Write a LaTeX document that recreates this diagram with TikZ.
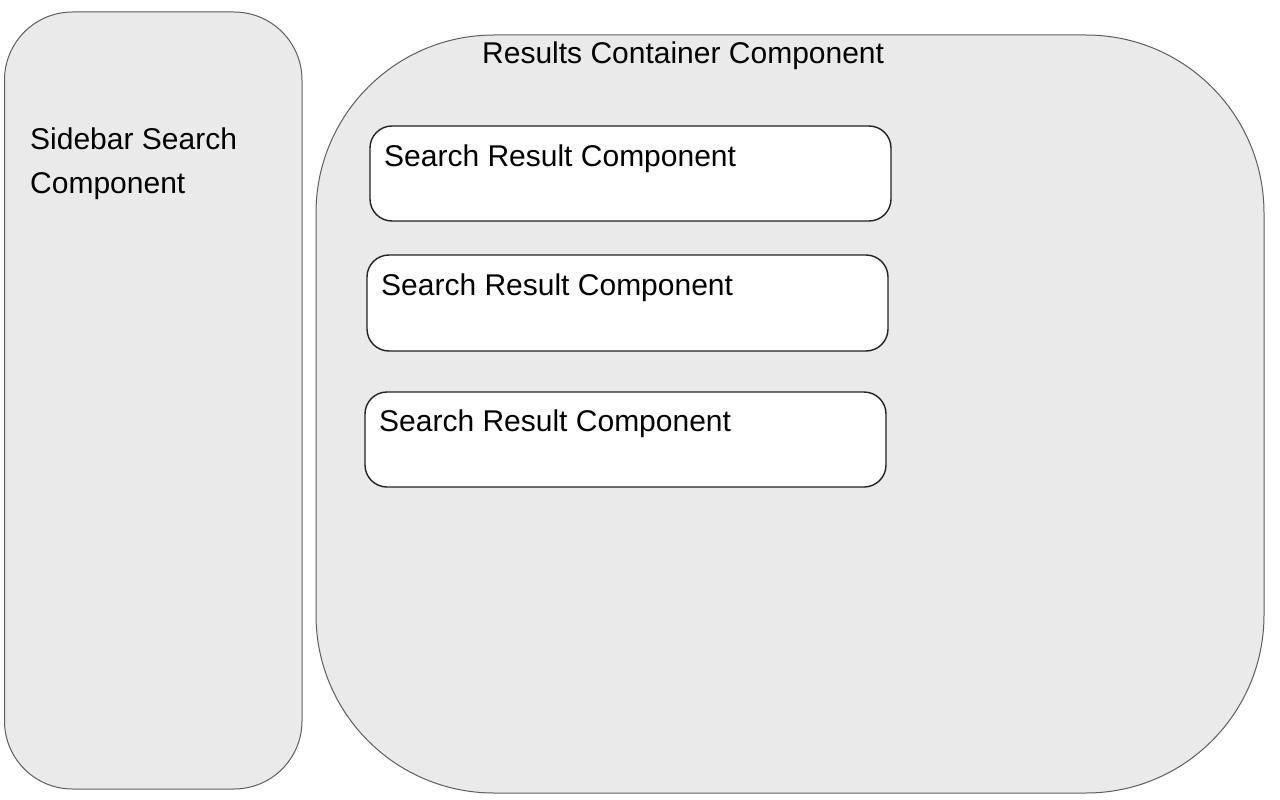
\documentclass[tikz,border=0pt]{standalone}
\usepackage{fontspec}
\setmainfont{Liberation Sans}
\definecolor{panelfill}{HTML}{EAEAEA}
\definecolor{paneldraw}{HTML}{5E5E5E}
\definecolor{boxdraw}{HTML}{222222}
\begin{document}
\begin{tikzpicture}[x=1pt,y=-1pt,
  panel/.style={draw=paneldraw,fill=panelfill,line width=1pt,rectangle,inner sep=0pt},
  resbox/.style={draw=boxdraw,fill=white,line width=1.4pt,rectangle,rounded corners=22pt,inner sep=0pt,minimum width=521pt},
  lbl/.style={anchor=base west,inner sep=0pt,font=\fontsize{30}{44}\selectfont,text=black}]
\useasboundingbox (0,0) rectangle (1280,800);
\node[panel,rounded corners=68pt,minimum width=297.5pt,minimum height=777pt] (sidebar) at (153.25,400.5) {};
\node[panel,rounded corners=178pt,minimum width=948pt,minimum height=758pt] (container) at (790,414) {};
\node[resbox,minimum height=95pt] (r1) at (630.5,173.5) {};
\node[resbox,minimum height=96pt] (r2) at (627.5,303) {};
\node[resbox,minimum height=95pt] (r3) at (625.5,439.5) {};
\node[lbl] (sidebartext1) at (30,149) {Sidebar Search};
\node[lbl] (sidebartext2) at (30,193) {Component};
\node[lbl] (containertext) at (482,64) {Results Container Component};
\node[lbl] (r1text) at (384,166) {Search Result Component};
\node[lbl] (r2text) at (381,295) {Search Result Component};
\node[lbl] (r3text) at (379,431) {Search Result Component};
\end{tikzpicture}
\end{document}
